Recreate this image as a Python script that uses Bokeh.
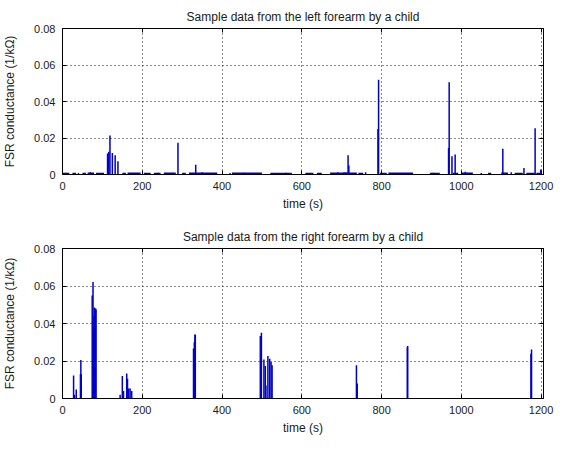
from bokeh.plotting import figure
from bokeh.layouts import column
from bokeh.models import FixedTicker, LinearAxis, Range1d, CustomJSTickFormatter, ColumnDataSource
from bokeh.embed import file_html
from bokeh.resources import INLINE

# ---------------- data ----------------
x_ticks = [0, 200, 400, 600, 800, 1000, 1200]
y_ticks = [0, 0.02, 0.04, 0.06, 0.08]
y_tick_labels = ["0", "0.02", "0.04", "0.06", "0.08"]
x_end = 1206
y_end = 0.08

titles = ["Sample data from the left forearm by a child",
          "Sample data from the right forearm by a child"]
x_label = "time (s)"
y_label = "FSR conductance (1/k\u03a9)"

# left forearm: spikes (time s, conductance)
left_t = [8, 40, 70, 113, 116, 119, 125, 132, 139, 175, 240, 289.5, 334, 350, 420,
          455, 560, 690, 716, 718, 760, 791, 792.5, 850, 930, 968, 969.5, 976.5,
          984.5, 1010, 1050, 1104, 1125, 1157, 1185, 1199]
left_v = [0.0009, 0.0008, 0.0012, 0.0115, 0.0125, 0.0214, 0.0118, 0.0105, 0.0072,
          0.0008, 0.0010, 0.0174, 0.0054, 0.0012, 0.0008, 0.0010, 0.0009, 0.0012,
          0.0105, 0.0050, 0.0012, 0.0250, 0.0519, 0.0008, 0.0010, 0.0145, 0.0506,
          0.0100, 0.0110, 0.0015, 0.0008, 0.0141, 0.0012, 0.0036, 0.0254, 0.0028]
# left forearm: low-level baseline stretches (start s, end s, level)
left_base_start = [0, 25, 50, 63, 84, 150, 163, 204, 229, 254, 300, 317, 425, 521, 609,
                   638, 671, 704, 742, 796, 817, 921, 979, 1000, 1067, 1100, 1134, 1163, 1188]
left_base_end = [17, 34, 59, 79, 104, 159, 196, 221, 246, 284, 309, 388, 500, 575, 629,
                 650, 713, 738, 754, 813, 879, 946, 992, 1029, 1075, 1117, 1154, 1184, 1200]
left_base_level = [0.0006, 0.0006, 0.0006, 0.0007, 0.0006, 0.0006, 0.0007, 0.0006, 0.0006,
                   0.0007, 0.0006, 0.0007, 0.0007, 0.0006, 0.0006, 0.0006, 0.0007, 0.0007,
                   0.0006, 0.0006, 0.0007, 0.0006, 0.0006, 0.0007, 0.0006, 0.0007, 0.0006,
                   0.0006, 0.0006]

# right forearm: spikes (time s, conductance)
right_t = [27.8, 30, 34.5, 45, 46, 47, 74.5, 76.5, 78, 79, 80, 81, 82, 83, 84,
           144.5, 150, 153, 161, 163, 166, 169.5, 173.5,
           328.5, 330.5, 332, 333, 496, 498.7, 505, 508.5, 510, 515, 519.5, 523, 525.5,
           737, 739, 864.5, 865.5, 1174.5, 1176]
right_v = [0.0123, 0.0020, 0.0048, 0.0130, 0.0205, 0.0130, 0.0550, 0.0622, 0.0360,
           0.0440, 0.0485, 0.0460, 0.0470, 0.0480, 0.0475,
           0.0020, 0.0120, 0.0040, 0.0134, 0.0105, 0.0054, 0.0054, 0.0040,
           0.0267, 0.0300, 0.0342, 0.0340, 0.0334, 0.0351, 0.0208, 0.0173, 0.0070,
           0.0227, 0.0212, 0.0195, 0.0177, 0.0177, 0.0080, 0.0274, 0.0280, 0.0239, 0.0262]
right_base_start = []
right_base_end = []
right_base_level = []

FONT = "Liberation Sans"
LINE = "#0000c8"


def make_panel(title, st, sv, bs, be, bl, frame_h, b_top, b_bottom):
    p = figure(frame_width=481, frame_height=frame_h, min_border_left=60, min_border_right=15,
               min_border_top=b_top, min_border_bottom=b_bottom,
               x_range=Range1d(0, x_end), y_range=Range1d(0, y_end),
               output_backend="svg", toolbar_location=None, title=title)
    p.title.align = "center"
    p.title.text_font = FONT
    p.title.text_font_size = "12px"
    p.title.text_font_style = "normal"
    p.title.text_color = "#1a1a1a"
    p.background_fill_color = "white"
    p.border_fill_color = "white"
    p.outline_line_color = "black"
    p.outline_line_alpha = 1

    for ax, ticks in ((p.xaxis[0], x_ticks), (p.yaxis[0], y_ticks)):
        ax.ticker = FixedTicker(ticks=ticks)
        ax.major_tick_in = 4
        ax.major_tick_out = 0
        ax.minor_tick_in = 0
        ax.minor_tick_out = 0
        ax.axis_line_color = "black"
        ax.major_tick_line_color = "black"
        ax.major_label_text_font = FONT
        ax.major_label_text_font_size = "11px"
        ax.major_label_text_color = "#1a1a1a"
        ax.major_label_standoff = 7
        ax.axis_label_text_font = FONT
        ax.axis_label_text_font_size = "12px"
        ax.axis_label_text_font_style = "normal"
        ax.axis_label_text_color = "#1a1a1a"
    p.xaxis.axis_label = x_label
    p.xaxis.axis_label_standoff = 4
    p.yaxis.axis_label = y_label
    p.yaxis.axis_label_standoff = 14
    p.yaxis.major_label_overrides = dict(zip(y_ticks, y_tick_labels))

    for side, ticks in (("right", y_ticks), ("above", x_ticks)):
        ax = LinearAxis(ticker=FixedTicker(ticks=ticks),
                        formatter=CustomJSTickFormatter(code="return ''"),
                        major_tick_in=4, major_tick_out=0, minor_tick_in=0, minor_tick_out=0,
                        major_label_standoff=0, axis_line_color="black",
                        major_label_text_font_size="1px")
        if side == "right":
            p.extra_y_ranges = {}
        p.add_layout(ax, side)

    p.xgrid.ticker = FixedTicker(ticks=x_ticks)
    p.ygrid.ticker = FixedTicker(ticks=y_ticks)
    for g in (p.xgrid[0], p.ygrid[0]):
        g.grid_line_color = "black"
        g.grid_line_dash = "1 3"
        g.grid_line_alpha = 0.9
        g.grid_line_width = 1

    if bs:
        src_b = ColumnDataSource(dict(x0=bs, x1=be, y=bl))
        p.segment(x0="x0", y0="y", x1="x1", y1="y", source=src_b,
                  line_color=LINE, line_width=1.5)
    src_s = ColumnDataSource(dict(t=st, v=sv, z=[0] * len(st)))
    p.segment(x0="t", y0="z", x1="t", y1="v", source=src_s, line_color=LINE, line_width=1.5)
    return p


p1 = make_panel(titles[0], left_t, left_v, left_base_start, left_base_end, left_base_level,
                146, 28, 40)
p2 = make_panel(titles[1], right_t, right_v, right_base_start, right_base_end, right_base_level,
                150, 34, 37)

p = column(p1, p2, spacing=0)
open("out.html", "w").write(file_html(p, INLINE))
